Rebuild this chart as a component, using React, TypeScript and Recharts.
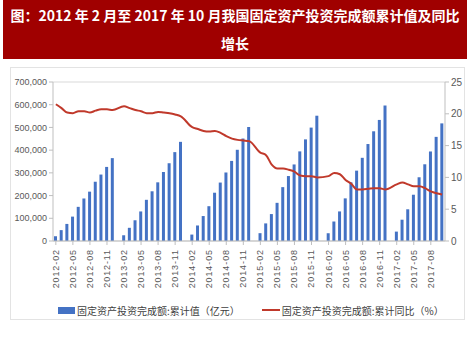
import React from 'react';
import {
  ComposedChart,
  Bar,
  Line,
  XAxis,
  YAxis,
  CartesianGrid
} from 'recharts';

const YEARS = [2012, 2013, 2014, 2015, 2016, 2017];
const MONTHS = ['01', '02', '03', '04', '05', '06', '07', '08', '09', '10', '11', '12'];

// 累计值（亿元），一月与二月合并发布，故一月为空
const VALUE_2012 = [null, 20931, 47877, 75201, 107357, 150372, 187179, 217268, 260909, 292540, 326183, 364835];
const VALUE_2013 = [null, 25243, 58092, 91321, 130119, 181318, 218860, 258305, 303687, 342352, 391283, 436528];
const VALUE_2014 = [null, 28300, 68322, 109870, 153200, 212580, 257290, 301630, 352650, 401600, 451100, 502005];
const VALUE_2015 = [null, 34477, 77511, 118558, 168026, 237132, 286000, 337000, 394531, 447425, 499300, 551590];
const VALUE_2016 = [null, 34173, 85843, 130218, 187671, 258360, 309758, 366219, 426906, 483000, 533000, 596501];
const VALUE_2017 = [null, 41378, 93777, 139670, 203716, 280605, 337747, 394150, 458478, 517818];

// 累计同比（%）
const GROWTH_2012 = [null, 21.5, 20.9, 20.2, 20.1, 20.4, 20.4, 20.2, 20.5, 20.7, 20.7, 20.6];
const GROWTH_2013 = [null, 21.2, 20.9, 20.6, 20.4, 20.1, 20.1, 20.3, 20.2, 20.1, 19.9, 19.6];
const GROWTH_2014 = [null, 17.9, 17.6, 17.3, 17.2, 17.3, 17.0, 16.5, 16.1, 15.9, 15.8, 15.7];
const GROWTH_2015 = [null, 13.9, 13.5, 12.0, 11.4, 11.4, 11.2, 10.9, 10.3, 10.2, 10.2, 10.0];
const GROWTH_2016 = [null, 10.2, 10.7, 10.5, 9.6, 9.0, 8.1, 8.1, 8.2, 8.3, 8.3, 8.1];
const GROWTH_2017 = [null, 8.9, 9.2, 8.9, 8.6, 8.6, 8.3, 7.8, 7.5, 7.3];

const VALUES = [VALUE_2012, VALUE_2013, VALUE_2014, VALUE_2015, VALUE_2016, VALUE_2017];
const GROWTHS = [GROWTH_2012, GROWTH_2013, GROWTH_2014, GROWTH_2015, GROWTH_2016, GROWTH_2017];

const LEFT_TICKS = [0, 100000, 200000, 300000, 400000, 500000, 600000, 700000];
const RIGHT_TICKS = [0, 5, 10, 15, 20, 25];

const data: { month: string; value: number | null; growth: number | null }[] = [];
YEARS.forEach((year, yi) => {
  VALUES[yi].forEach((v, mi) => {
    if (year === 2012 && mi === 0) return;
    data.push({ month: `${year}-${MONTHS[mi]}`, value: v, growth: GROWTHS[yi][mi] });
  });
});

const BLUE = '#4472C4';
const RED = '#C0392B';
const AXIS = '#BFBFBF';
const TEXT = '#595959';

const XTick = (props: any) => {
  const { x, y, payload } = props;
  return (
    <text
      x={x}
      y={y + 2}
      transform={`rotate(-90 ${x} ${y + 2})`}
      textAnchor="end"
      dominantBaseline="central"
      fontSize={9}
      letterSpacing={0.9}
      fill={TEXT}
      fontFamily="'Liberation Sans', Arial, sans-serif"
    >
      {payload.value}
    </text>
  );
};

export default function App() {
  return (
    <div style={{ position: 'fixed', left: 0, top: 0, width: 474, height: 356, background: '#fff', overflow: 'hidden' }}>
      <div
        style={{
          position: 'absolute',
          left: 3,
          top: 0,
          width: 464,
          height: 59,
          background: '#A00000',
          color: '#fff',
          fontFamily: "'Noto Sans CJK SC', sans-serif",
          fontWeight: 700,
          fontSize: 14,
          lineHeight: '28px',
          textAlign: 'center',
          paddingTop: 1,
          boxSizing: 'border-box'
        }}
      >
        <div style={{ whiteSpace: 'nowrap' }}>图：2012 年 2 月至 2017 年 10 月我国固定资产投资完成额累计值及同比</div>
        <div>增长</div>
      </div>
      <div
        style={{
          position: 'absolute',
          left: 10,
          top: 67,
          width: 455,
          height: 253,
          border: '1px solid #E3E3E3',
          boxSizing: 'border-box'
        }}
      />
      <div style={{ position: 'absolute', left: 0, top: 0 }}>
        <ComposedChart width={474} height={356} data={data} margin={{ top: 82, right: 0, bottom: 0, left: 0 }}>
          <CartesianGrid vertical={false} stroke="#D9D9D9" />
          <XAxis
            dataKey="month"
            interval={2}
            height={115}
            tick={<XTick />}
            tickLine={{ stroke: AXIS }}
            axisLine={{ stroke: AXIS }}
            tickSize={4}
          />
          <YAxis
            yAxisId="left"
            width={53}
            domain={[0, 700000]}
            ticks={LEFT_TICKS}
            tickFormatter={(v: number) => v.toLocaleString('en-US')}
            tick={{ fontSize: 9, fill: TEXT, fontFamily: "'Liberation Sans', Arial, sans-serif" }}
            tickLine={{ stroke: AXIS }}
            axisLine={{ stroke: AXIS }}
            tickSize={4}
          />
          <YAxis
            yAxisId="right"
            orientation="right"
            width={29}
            domain={[0, 25]}
            ticks={RIGHT_TICKS}
            tick={{ fontSize: 10, fill: TEXT, fontFamily: "'Liberation Sans', Arial, sans-serif" }}
            tickLine={{ stroke: AXIS }}
            axisLine={{ stroke: AXIS }}
            tickSize={4}
          />
          <Bar yAxisId="left" dataKey="value" fill={BLUE} barSize={3} isAnimationActive={false} />
          <Line
            yAxisId="right"
            type="monotone"
            dataKey="growth"
            stroke={RED}
            strokeWidth={2}
            dot={false}
            connectNulls
            isAnimationActive={false}
          />
        </ComposedChart>
      </div>
      <div
        style={{
          position: 'absolute',
          left: 58,
          top: 301,
          height: 18,
          display: 'flex',
          alignItems: 'center',
          fontFamily: "'Noto Sans CJK SC', sans-serif",
          fontSize: 10,
          color: '#404040',
          whiteSpace: 'nowrap'
        }}
      >
        <span style={{ display: 'inline-block', width: 17, height: 7, background: BLUE, marginRight: 2 }} />
        <span>固定资产投资完成额:累计值（亿元）</span>
        <span style={{ display: 'inline-block', width: 18, height: 2, background: RED, marginLeft: 22, marginRight: 2 }} />
        <span>固定资产投资完成额:累计同比（%）</span>
      </div>
    </div>
  );
}
